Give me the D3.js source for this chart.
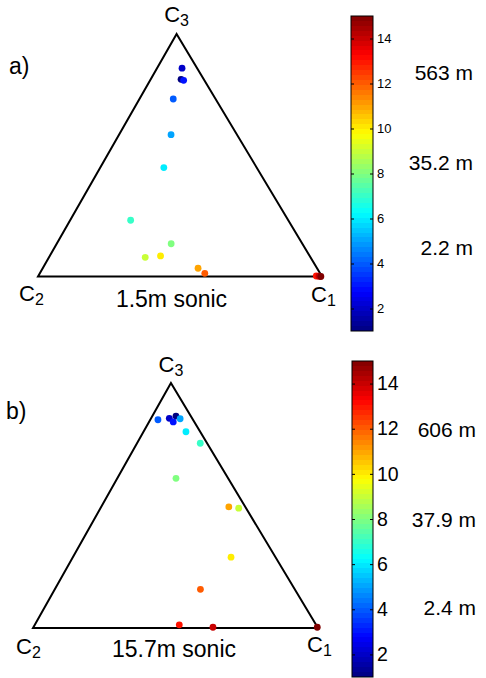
<!DOCTYPE html>
<html>
<head>
<meta charset="utf-8">
<script src="https://cdn.jsdelivr.net/npm/d3@7"></script>
<style>
  body { margin: 0; background: #fff; }
  svg text { font-family: "Liberation Sans", Arial, sans-serif; fill: #000; }
</style>
</head>
<body>
<div id="chart"></div>
<script>
// colour level of each point (same 15 levels in both panels)
var levels = [1, 2, 3, 4, 5, 6, 7, 8, 9, 10, 11, 12, 13, 14, 15];

// ternary fractions, c2 = 1 - c1 - c3
var c1A = [0.107, 0.088, 0.118, 0.119, 0.183, 0.224, 0.213, 0.403, 0.339, 0.390, 0.547, 0.581, 0.979, 0.989, 0.996];
var c3A = [0.813, 0.859, 0.809, 0.732, 0.585, 0.449, 0.232, 0.135, 0.079, 0.085, 0.034, 0.013, 0.002, 0.001, 0.000];
var c1B = [0.083, 0.064, 0.085, 0.027, 0.103, 0.149, 0.222, 0.206, 0.485, 0.555, 0.448, 0.511, 0.507, 0.630, 0.996];
var c3B = [0.865, 0.856, 0.841, 0.850, 0.854, 0.801, 0.754, 0.611, 0.489, 0.289, 0.494, 0.158, 0.013, 0.003, 0.003];

var colorTicks = [2, 4, 6, 8, 10, 12, 14];
var distA = ["563 m", "35.2 m", "2.2 m"];
var distB = ["606 m", "37.9 m", "2.4 m"];
var titleA = "1.5m sonic";
var titleB = "15.7m sonic";

var W = 486, H = 678;
var svg = d3.select("#chart").append("svg")
  .attr("width", W)
  .attr("height", H);

function clamp(v) { return Math.max(0, Math.min(1, v)); }
function jet(t) {
  var r = clamp(1.5 - Math.abs(4 * t - 3));
  var g = clamp(1.5 - Math.abs(4 * t - 2));
  var b = clamp(1.5 - Math.abs(4 * t - 1));
  return d3.rgb(r * 255, g * 255, b * 255).toString();
}
var cScale = d3.scaleLinear().domain([1, 15]).range([0, 1]).clamp(true);

// jet gradient for the colour bars (64 bands like matlab)
var defs = svg.append("defs");
var grad = defs.append("linearGradient")
  .attr("id", "jetGrad")
  .attr("x1", 0).attr("y1", 1).attr("x2", 0).attr("y2", 0);
for (var k = 0; k < 64; k++) {
  grad.append("stop").attr("offset", k / 64).attr("stop-color", jet((k + 0.5) / 64));
  grad.append("stop").attr("offset", (k + 1) / 64).attr("stop-color", jet((k + 0.5) / 64));
}

function drawPanel(p, c1, c3, dist, title) {
  var g = svg.append("g");

  var x = d3.scaleLinear().domain([0, 1]).range([p.x2, p.x1]);
  var y = d3.scaleLinear().domain([0, 1]).range([p.base, p.apex]);
  function px(a, c) { return x(a + p.apexFrac * c); }

  // triangle
  var verts = [[0, 0], [1, 0], [0, 1]];
  g.append("path")
    .attr("d", d3.line()
      .x(function(d) { return px(d[0], d[1]); })
      .y(function(d) { return y(d[1]); })(verts) + "Z")
    .attr("fill", "none")
    .attr("stroke", "#000")
    .attr("stroke-width", 2)
    .attr("stroke-linejoin", "miter");

  // points
  g.selectAll("circle")
    .data(levels)
    .enter()
    .append("circle")
    .attr("cx", function(d, i) { return px(c1[i], c3[i]); })
    .attr("cy", function(d, i) { return y(c3[i]); })
    .attr("r", 3.4)
    .attr("fill", function(d) { return jet(cScale(d)); });

  // corner labels
  var corner = function(xx, yy, sub, anchor) {
    var t = g.append("text")
      .attr("x", xx).attr("y", yy)
      .attr("font-size", 22)
      .attr("text-anchor", anchor);
    t.append("tspan").text("C");
    t.append("tspan").attr("font-size", 16).attr("dy", 4).text(sub);
  };
  corner(px(0, 1), p.c3y, "3", "middle");
  corner(p.c2x, p.c2y, "2", "start");
  corner(p.c1x, p.c1y, "1", "start");

  g.append("text")
    .attr("x", p.letterX).attr("y", p.letterY)
    .attr("font-size", 23)
    .text(p.letter);

  g.append("text")
    .attr("x", p.titleX).attr("y", p.titleY)
    .attr("font-size", 23)
    .attr("text-anchor", "middle")
    .text(title);

  // colour bar
  var cb = d3.scaleLinear().domain([1, 15]).range([p.cbBot, p.cbTop]);
  g.append("rect")
    .attr("x", p.cbX).attr("y", p.cbTop)
    .attr("width", p.cbW).attr("height", p.cbBot - p.cbTop)
    .attr("fill", "url(#jetGrad)")
    .attr("stroke", "#000")
    .attr("stroke-width", 1);

  var axR = g.append("g")
    .attr("transform", "translate(" + (p.cbX + p.cbW) + ",0)")
    .call(d3.axisRight(cb).tickValues(colorTicks).tickSize(-3).tickPadding(4));
  axR.select(".domain").remove();
  axR.selectAll("text")
    .attr("font-size", p.tickFont)
    .attr("font-family", "Liberation Sans, Arial, sans-serif")
    .attr("fill", "#000");
  var axL = g.append("g")
    .attr("transform", "translate(" + p.cbX + ",0)")
    .call(d3.axisLeft(cb).tickValues(colorTicks).tickSize(-3).tickFormat(""));
  axL.select(".domain").remove();

  g.selectAll("text.dist")
    .data(dist)
    .enter()
    .append("text")
    .attr("class", "dist")
    .attr("x", p.distX)
    .attr("y", function(d, i) { return cb(p.distAt[i]); })
    .attr("dy", "0.35em")
    .attr("font-size", 21)
    .attr("text-anchor", "end")
    .text(function(d) { return d; });
}

drawPanel({
  x2: 38, x1: 322, base: 276.5, apex: 34, apexFrac: 0.488,
  c3y: 22, c2x: 19, c2y: 301, c1x: 311, c1y: 302,
  letter: "a)", letterX: 9, letterY: 74,
  titleX: 171.5, titleY: 307,
  cbX: 351, cbW: 22, cbTop: 16, cbBot: 331, tickFont: 13,
  distX: 473, distAt: [12.5, 8.5, 4.7]
}, c1A, c3A, distA, titleA);

drawPanel({
  x2: 33, x1: 318, base: 628, apex: 383, apexFrac: 0.484,
  c3y: 372, c2x: 16, c2y: 654, c1x: 307, c1y: 652,
  letter: "b)", letterX: 6, letterY: 419,
  titleX: 174, titleY: 657,
  cbX: 352, cbW: 21, cbTop: 361, cbBot: 677, tickFont: 19.5,
  distX: 476, distAt: [11.95, 7.98, 4.09]
}, c1B, c3B, distB, titleB);
</script>
</body>
</html>
